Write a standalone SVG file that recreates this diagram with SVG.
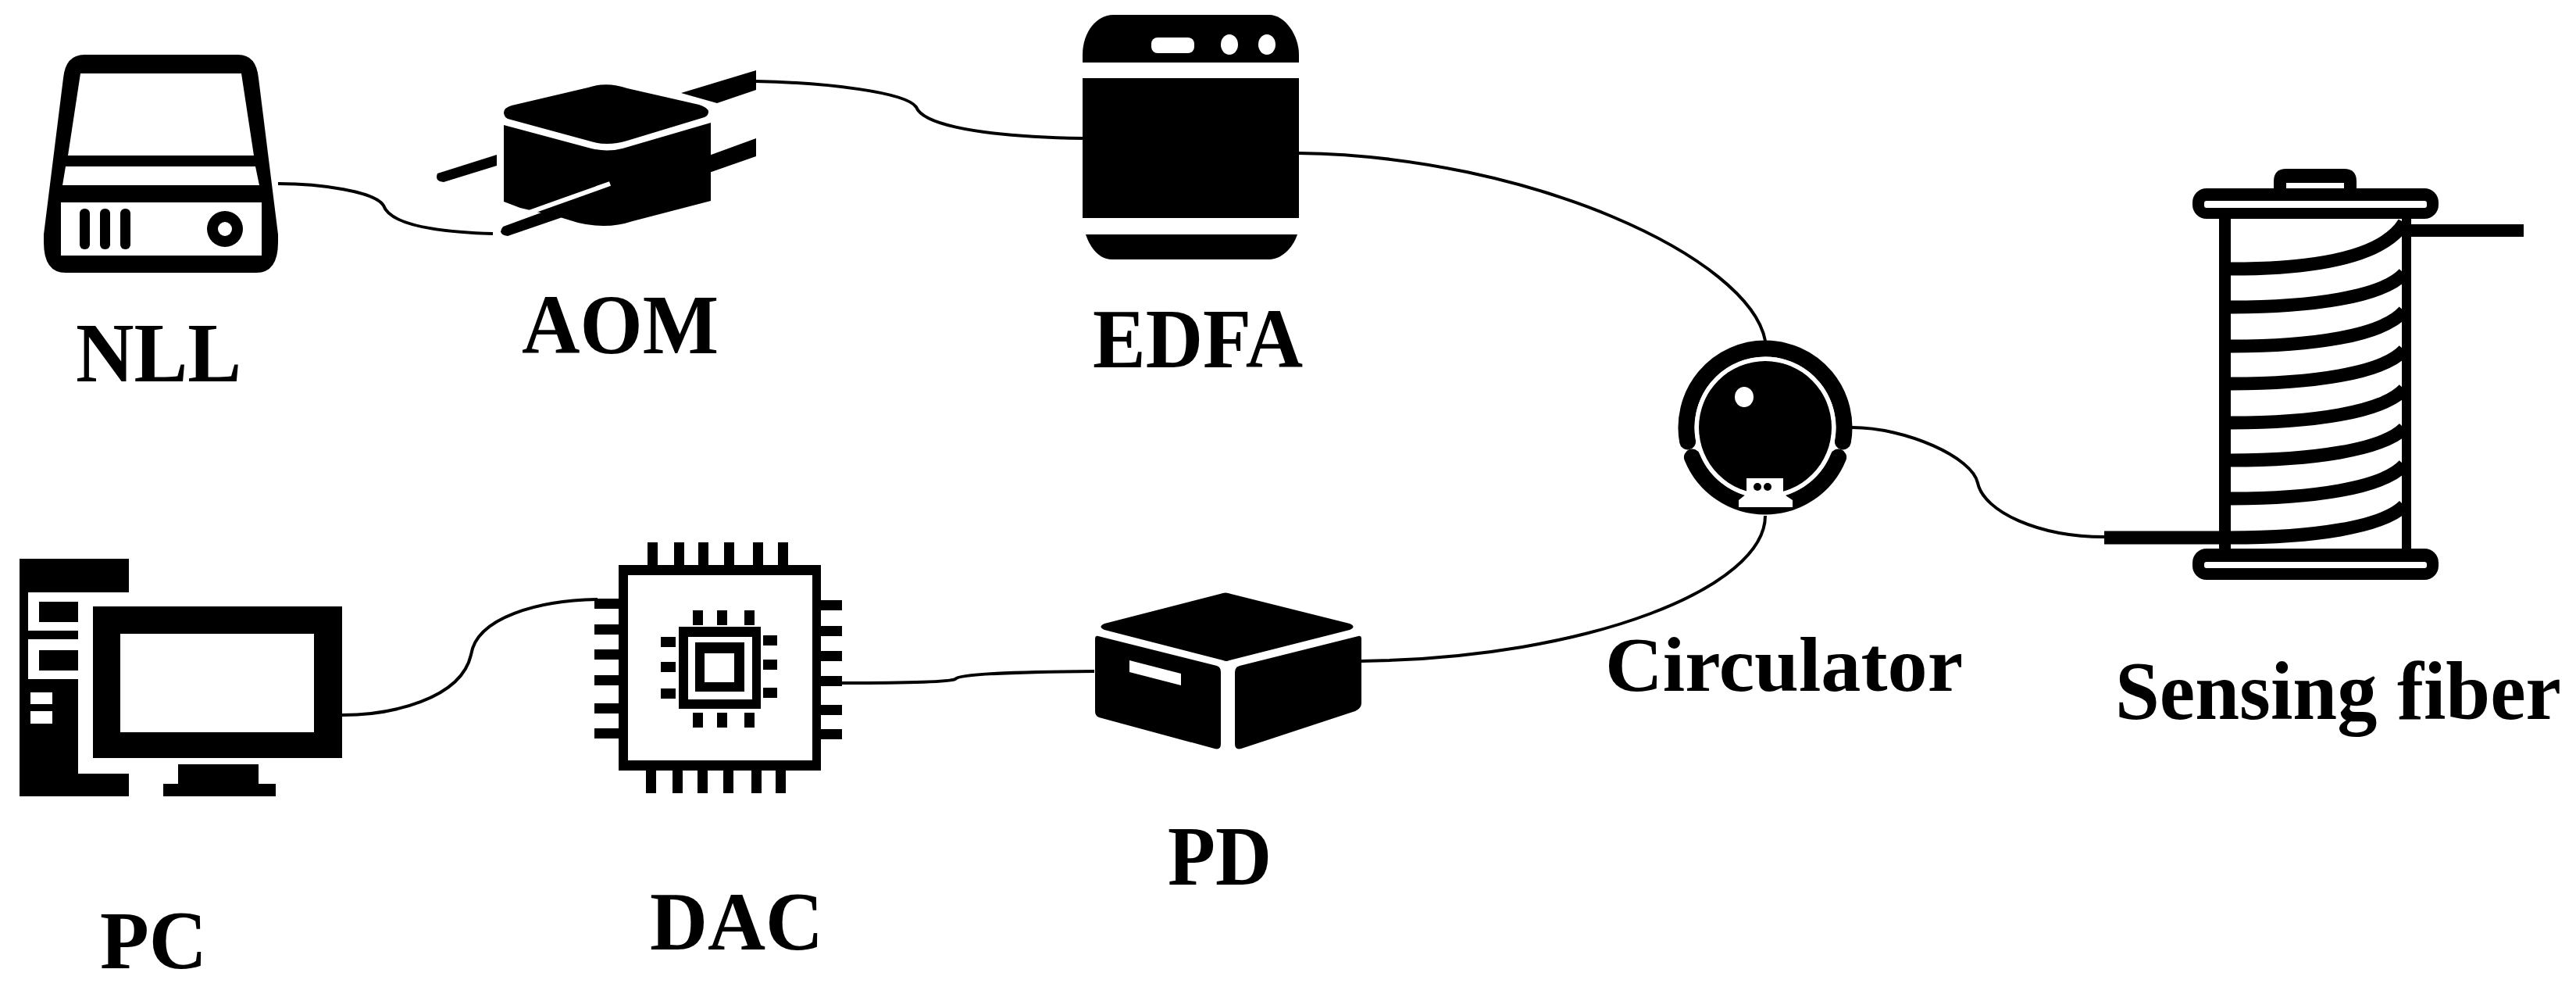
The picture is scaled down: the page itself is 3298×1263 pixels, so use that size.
<svg xmlns="http://www.w3.org/2000/svg" width="3298" height="1263" viewBox="0 0 3298 1263">
<style>
.k{fill:#000}
.w{fill:#fff}
.lbl{font-family:"Liberation Serif","Times New Roman",serif;font-weight:700;fill:#000}
.wire{fill:none;stroke:#000;stroke-width:4}
.coil{fill:none;stroke:#000;stroke-width:17}
</style>
<rect width="3298" height="1263" fill="#fff"/>
<g id="connectors">
<path class="wire" d="M356 235C410 235 480 245 491 263C497 280 530 296 631 299"/>
<path class="wire" d="M968 104C1060 106 1160 118 1173 137C1180 155 1230 174 1386 177"/>
<path class="wire" d="M1663 196C1960 200 2240 330 2260 436"/>
<path class="wire" d="M2371 547C2440 547 2525 585 2532 618C2540 655 2610 687 2694 687"/>
<path class="wire" d="M2260 660C2260 750 2040 842 1742 846"/>
<path class="wire" d="M1078 874C1140 874 1215 873 1223 869C1228 862 1300 860 1401 859"/>
<path class="wire" d="M438 915C500 915 590 895 603 838C610 790 690 768 765 767"/>
</g>
<g id="nll">
<path class="k" d="M108 70H305Q328 70 331 100L356 300V310Q356 349 328 349H84Q56 349 56 310V300L81 100Q84 70 108 70Z"/>
<path class="w" d="M103 94H309L325 199H87ZM84 213H327L332 237H80ZM78 259H335V327H78Z"/>
<rect class="k" x="102" y="267" width="13" height="52" rx="6"/>
<rect class="k" x="128" y="267" width="13" height="52" rx="6"/>
<rect class="k" x="154" y="267" width="13" height="52" rx="6"/>
<circle class="k" cx="288" cy="293" r="23"/>
<circle class="w" cx="288" cy="293" r="9"/>
<text class="lbl" x="97" y="488" font-size="108" textLength="212" lengthAdjust="spacingAndGlyphs">NLL</text>
</g>
<g id="aom">
<path class="k" d="M560 222L636 198V212L568 233Q556 232 560 222Z"/>
<path class="k" d="M872 119L968 90V115L918 132Z"/>
<path class="k" d="M905 200L968 177V200L905 222Z"/>
<path class="k" d="M753 112Q777 104 803 113L895 134Q907 138 907 143Q907 148 902 150L803 180Q777 188 753 180L650 152Q645 149 645 144Q645 138 655 135Z"/>
<path class="k" d="M645 160L757 190Q777 195 797 190L910 157V257L810 283Q777 294 740 285L717 278L666 266L645 258Z"/>
<path d="M781 235L638 286" stroke="#fff" stroke-width="6" fill="none"/>
<path class="k" d="M644 290L775 242L775 250L717 279L650 302Q636 300 644 290Z"/>
<text class="lbl" x="668" y="452" font-size="108" textLength="252" lengthAdjust="spacingAndGlyphs">AOM</text>
</g>
<g id="edfa">
<path class="k" d="M1386 80V70C1386 40 1405 19 1425 19H1625C1645 19 1663 45 1663 70V80Z"/>
<rect class="w" x="1474" y="48" width="55" height="20" rx="8"/>
<ellipse class="w" cx="1574" cy="57" rx="11" ry="13"/>
<ellipse class="w" cx="1622" cy="57" rx="11" ry="13"/>
<rect class="k" x="1386" y="100" width="277" height="179"/>
<path class="k" d="M1390 300H1661C1655 318 1640 332 1625 332H1423C1408 332 1396 318 1390 300Z"/>
<text class="lbl" x="1399" y="470" font-size="108" textLength="269" lengthAdjust="spacingAndGlyphs">EDFA</text>
</g>
<g id="circulator">
<circle class="k" cx="2260" cy="547" r="85"/>
<path d="M2160.6 565A101 101 0 1 1 2359.4 565" fill="none" stroke="#000" stroke-width="21" stroke-linecap="round"/>
<path d="M2166.4 585A101 101 0 0 0 2353.6 585" fill="none" stroke="#000" stroke-width="21" stroke-linecap="round"/>
<circle cx="2260" cy="547" r="88" fill="none" stroke="#fff" stroke-width="5"/>
<path class="w" d="M2236 612H2283V632L2295 640V649H2226V640L2236 632Z"/>
<circle class="k" cx="2250" cy="623" r="5"/>
<circle class="k" cx="2263" cy="623" r="5"/>
<ellipse class="w" cx="2233" cy="508" rx="12" ry="13"/>
<text class="lbl" x="2055" y="884" font-size="100" textLength="458" lengthAdjust="spacingAndGlyphs">Circulator</text>
</g>
<g id="sensing-fiber">
<path class="k" d="M2911 241V232Q2911 216 2927 216H3001Q3017 216 3017 232V241Z"/>
<rect class="w" x="2927" y="234" width="74" height="7"/>
<path class="coil" d="M2856 344C2960 344 3050 330 3078 285"/>
<path class="coil" d="M2856 393C2960 393 3050 380 3078 350"/>
<path class="coil" d="M2856 443C2960 443 3050 430 3078 398"/>
<path class="coil" d="M2856 491C2960 491 3050 478 3078 448"/>
<path class="coil" d="M2856 541C2960 541 3050 528 3078 498"/>
<path class="coil" d="M2856 589C2960 589 3050 576 3078 548"/>
<path class="coil" d="M2856 638C2960 638 3050 625 3078 595"/>
<path class="coil" d="M2694 688H2856C2960 688 3050 675 3078 647"/>
<rect class="k" x="2807" y="241" width="315" height="39" rx="18"/>
<rect class="w" x="2822" y="257" width="285" height="9" rx="3"/>
<rect class="k" x="2807" y="702" width="315" height="40" rx="18"/>
<rect class="w" x="2822" y="719" width="285" height="8" rx="3"/>
<rect class="k" x="2841" y="280" width="15" height="422"/>
<rect class="k" x="3075" y="280" width="12" height="422"/>
<rect class="k" x="3087" y="287" width="144" height="16"/>
<text class="lbl" x="2708" y="920" font-size="105" textLength="571" lengthAdjust="spacingAndGlyphs">Sensing fiber</text>
</g>
<g id="pd">
<path class="k" d="M1562 760Q1569 757 1576 760L1728 798Q1737 802 1728 806L1574 845Q1570 847 1566 845L1414 806Q1405 802 1414 798Z"/>
<path class="k" d="M1406 814L1558 852Q1563 854 1563 860V952Q1563 960 1555 958L1407 918Q1402 916 1402 910V818Q1402 813 1406 814Z"/>
<path class="k" d="M1739 814L1587 852Q1581 854 1581 860V952Q1581 960 1589 958L1735 910Q1743 906 1743 900V818Q1743 813 1739 814Z"/>
<path class="w" d="M1446 845L1512 862V877L1446 860Z"/>
<text class="lbl" x="1495" y="1132" font-size="108" textLength="133" lengthAdjust="spacingAndGlyphs">PD</text>
</g>
<g id="dac">
<rect class="k" x="792" y="723" width="259" height="263"/>
<rect class="w" x="804" y="736" width="236" height="237"/>
<path class="k" d="M829 694h13v29h-13zM863 694h13v29h-13zM894 694h13v29h-13zM927 694h13v29h-13zM964 694h13v29h-13zM996 694h13v29h-13z"/>
<path class="k" d="M827 986h13v29h-13zM861 986h13v29h-13zM893 986h13v29h-13zM926 986h13v29h-13zM962 986h13v29h-13zM993 986h13v29h-13z"/>
<path class="k" d="M761 766h31v13h-31zM761 799h31v13h-31zM761 831h31v13h-31zM761 864h31v13h-31zM761 900h31v13h-31zM761 932h31v13h-31z"/>
<path class="k" d="M1051 768h27v13h-27zM1051 801h27v13h-27zM1051 833h27v13h-27zM1051 865h27v13h-27zM1051 902h27v13h-27zM1051 933h27v13h-27z"/>
<rect class="k" x="869" y="802" width="105" height="105"/>
<rect class="w" x="881" y="815" width="82" height="80"/>
<rect class="k" x="890" y="822" width="63" height="63"/>
<rect class="w" x="902" y="836" width="38" height="37"/>
<path class="k" d="M887 781h13v19h-13zM918 781h13v19h-13zM953 781h13v19h-13zM887 912h13v19h-13zM918 912h13v19h-13zM953 912h13v19h-13z"/>
<path class="k" d="M846 815h19v13h-19zM846 847h19v13h-19zM846 881h19v13h-19zM977 813h18v13h-18zM977 844h18v13h-18zM977 880h18v13h-18z"/>
<text class="lbl" x="832" y="1215" font-size="106" textLength="222" lengthAdjust="spacingAndGlyphs">DAC</text>
</g>
<g id="pc">
<path class="k" d="M25 715H165V758H36V869H100V990H165V1019H25Z"/>
<rect class="k" x="50" y="770" width="50" height="26"/>
<rect class="k" x="36" y="807" width="64" height="11"/>
<rect class="k" x="50" y="832" width="50" height="26"/>
<rect class="w" x="39" y="886" width="28" height="15"/>
<rect class="w" x="39" y="910" width="28" height="16"/>
<rect class="k" x="119" y="776" width="319" height="194"/>
<rect class="w" x="154" y="811" width="248" height="126"/>
<path class="k" d="M228 978H331V1003H353V1019H209V1003H228Z"/>
<text class="lbl" x="128" y="1239" font-size="106" textLength="137" lengthAdjust="spacingAndGlyphs">PC</text>
</g>
</svg>
